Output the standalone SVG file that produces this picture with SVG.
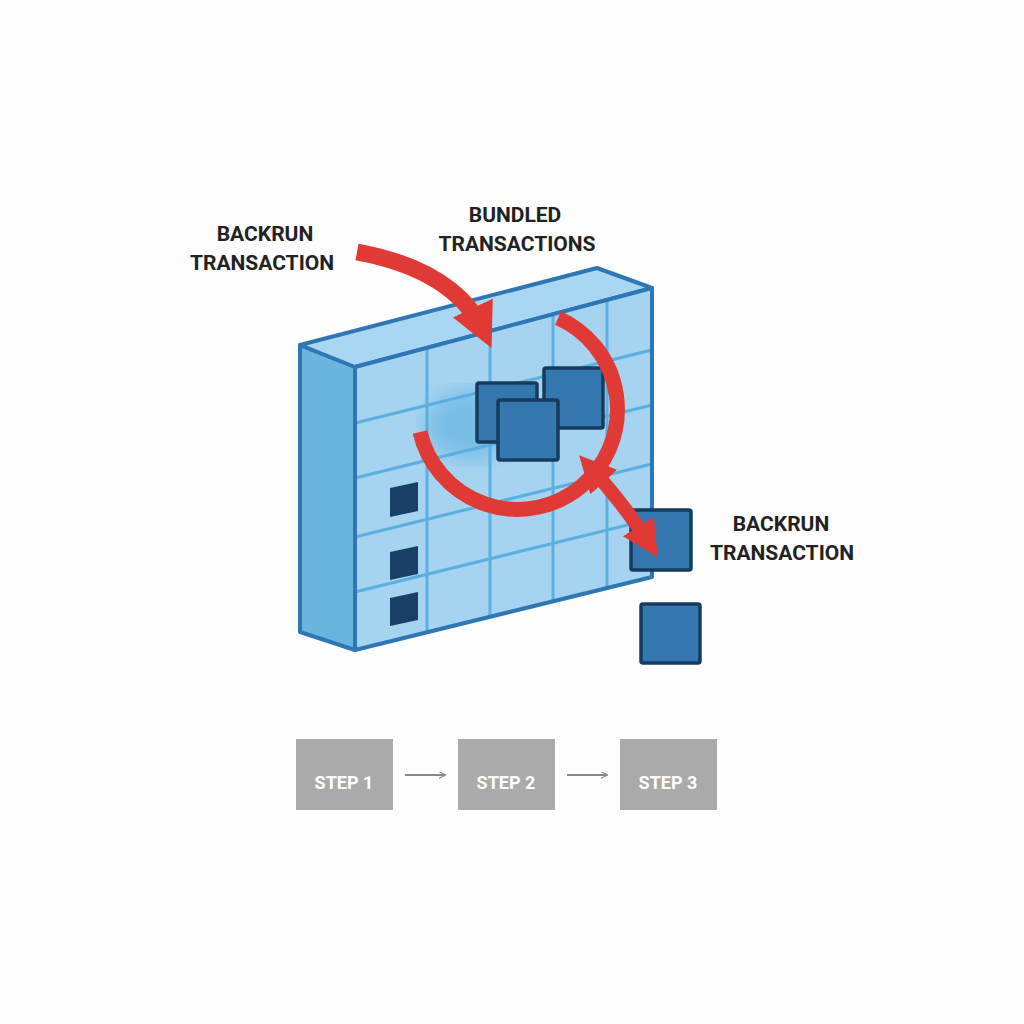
<svg xmlns="http://www.w3.org/2000/svg" width="1024" height="1024" viewBox="0 0 1024 1024">
<defs>
<style>
.lbl{font-family:Roboto,"Liberation Sans",Arial,sans-serif;font-weight:bold;font-size:21px;fill:#222;text-anchor:middle}
.step{font-family:Roboto,"Liberation Sans",Arial,sans-serif;font-weight:bold;font-size:18px;fill:#fff;text-anchor:middle}
.edge{stroke:#2f77b4;stroke-width:4;stroke-linejoin:round}
.grid{stroke:#5cb0e0;stroke-width:3;fill:none}
.sq{fill:#3578b0;stroke:#173b5e;stroke-width:3.5}
.dk{fill:#183f66}
.red{fill:none;stroke:#e03a36;stroke-linecap:butt}
.gr{stroke:#888;stroke-width:2;fill:none}
</style>
<marker id="rh" viewBox="0 0 10 10" refX="6" refY="5" markerWidth="2.6" markerHeight="2.6" orient="auto-start-reverse" markerUnits="strokeWidth"><path d="M0,0 L10,5 L0,10 Z" fill="#e03a36"/></marker>
<marker id="ga" viewBox="0 0 10 10" refX="9" refY="5" markerWidth="7" markerHeight="7" orient="auto" markerUnits="userSpaceOnUse"><path d="M0,0 L10,5 L0,10" fill="none" stroke="#888" stroke-width="1.5"/></marker>
<filter id="bl"><feGaussianBlur stdDeviation="10"/></filter>
</defs>
<rect width="1024" height="1024" fill="#fdfdfd"/>
<g id="block">
<polygon points="300,345 355,367 355,650 300,632" style="fill:#6ab4e0" class="edge"/>
<polygon points="300,345 597,268 652,288 355,367" style="fill:#a9d6f2" class="edge"/>
<polygon points="355,367 652,288 652,577 355,650" style="fill:#a6d4f0"/>
<g class="grid">
<line x1="427" y1="348" x2="427" y2="632"/>
<line x1="490" y1="331" x2="490" y2="617"/>
<line x1="553" y1="314" x2="553" y2="601"/>
<line x1="607" y1="300" x2="607" y2="588"/>
<line x1="355" y1="423" x2="652" y2="350"/>
<line x1="355" y1="478" x2="652" y2="405"/>
<line x1="355" y1="537" x2="652" y2="464"/>
<line x1="355" y1="592" x2="652" y2="519"/>
</g>
<ellipse cx="470" cy="425" rx="45" ry="35" fill="#5aaee0" opacity="0.6" filter="url(#bl)"/>
<polygon points="355,367 652,288 652,577 355,650" class="edge" style="fill:none"/>
<polygon points="390,488 418,482 418,511 390,517" class="dk"/>
<polygon points="390,552 418,546 418,574 390,580" class="dk"/>
<polygon points="390,598 418,592 418,620 390,626" class="dk"/>
</g>
<g id="bundled">
<rect x="477" y="383" width="60" height="59" rx="2" class="sq"/>
<rect x="544" y="368" width="59" height="60" rx="2" class="sq"/>
<rect x="498" y="400" width="60" height="60" rx="2" class="sq"/>
</g>
<g id="backrun-sq">
<rect x="631" y="510" width="60" height="60" rx="2" class="sq"/>
<rect x="641" y="604" width="59" height="59" rx="2" class="sq"/>
</g>
<g id="connectors">
<path class="red" stroke-width="17" d="M357,252 Q455,270 484,332" marker-end="url(#rh)"/>
<path class="red" stroke-width="15" d="M420,432 A100,100 0 1 0 558,318"/>
<path class="red" stroke-width="14" d="M589,466 Q625,505 650,545" marker-start="url(#rh)" marker-end="url(#rh)"/>
<line class="gr" x1="405" y1="775" x2="445" y2="775" marker-end="url(#ga)"/>
<line class="gr" x1="567" y1="775" x2="607" y2="775" marker-end="url(#ga)"/>
</g>
<g id="labels">
<text class="lbl" x="265" y="241">BACKRUN</text>
<text class="lbl" x="262" y="270">TRANSACTION</text>
<text class="lbl" x="515" y="222">BUNDLED</text>
<text class="lbl" x="517" y="251">TRANSACTIONS</text>
<text class="lbl" x="781" y="531">BACKRUN</text>
<text class="lbl" x="782" y="560">TRANSACTION</text>
</g>
<g id="step1"><rect x="296" y="739" width="97" height="71" fill="#aaaaaa"/><text class="step" x="344" y="789">STEP 1</text></g>
<g id="step2"><rect x="458" y="739" width="97" height="71" fill="#aaaaaa"/><text class="step" x="506" y="789">STEP 2</text></g>
<g id="step3"><rect x="620" y="739" width="97" height="71" fill="#aaaaaa"/><text class="step" x="668" y="789">STEP 3</text></g>
</svg>
